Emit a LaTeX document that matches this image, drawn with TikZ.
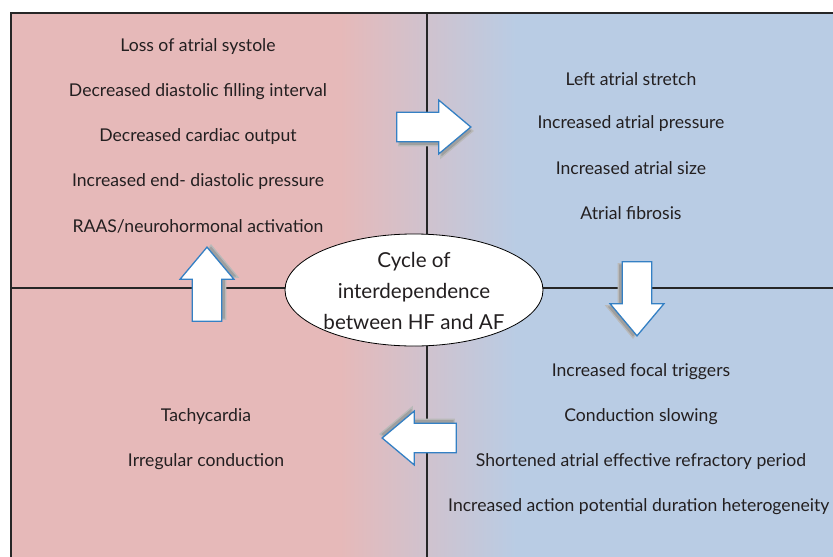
\documentclass[tikz,border=0pt]{standalone}
\usepackage{fontspec}
\setmainfont{Lato}
\usetikzlibrary{shapes.geometric,shapes.arrows,shadows}

\definecolor{hfpink}{RGB}{230,185,185}
\definecolor{afblue}{RGB}{185,204,228}
\definecolor{arrowblue}{RGB}{52,128,196}
\definecolor{txtgray}{RGB}{35,31,32}

\tikzset{
	listtext/.style={text=txtgray,font=\fontsize{17.6}{21}\selectfont,inner sep=0pt},
	cyclearrow/.style={single arrow,draw=arrowblue,line width=1.3pt,fill=white,
		minimum height=74pt,minimum width=54pt,single arrow head extend=12pt,single arrow tip angle=80,
		text width=28pt,text height=14pt,text depth=14pt,inner sep=0pt,single arrow head indent=0pt}
}

\begin{document}
\begin{tikzpicture}[x=1pt,y=-1pt]
		\useasboundingbox (0,0) rectangle (833,557);
		% background of the quadrants
		\fill[hfpink] (11,13) rectangle (341,560);
		\shade[left color=hfpink,right color=afblue] (340,13) rectangle (516,560);
		\fill[afblue] (515,13) rectangle (840,560);
		\draw[line width=1.5pt,black!85] (840,13) -- (11,13) -- (11,560);
		\draw[line width=1.2pt,black!85] (427,13) -- (427,560);
		\draw[line width=1.2pt,black!85] (11,288) -- (840,288);
		% top left
		\node[listtext] (loss) at (198,47) {Loss of atrial systole};
		\node[listtext] (filling) at (198,92) {Decreased diastolic filling interval};
		\node[listtext] (output) at (198,137) {Decreased cardiac output};
		\node[listtext] (pressure) at (198,182) {Increased end- diastolic pressure};
		\node[listtext] (raas) at (198,226) {RAAS/neurohormonal activation};
		% top right
		\node[listtext] (stretch) at (631,79) {Left atrial stretch};
		\node[listtext] (atpress) at (631,124) {Increased atrial pressure};
		\node[listtext] (atsize) at (631,168) {Increased atrial size};
		\node[listtext] (fibrosis) at (631,213) {Atrial fibrosis};
		% bottom right
		\node[listtext] (triggers) at (641,372) {Increased focal triggers};
		\node[listtext] (slowing) at (641,417) {Conduction slowing};
		\node[listtext] (erp) at (641,462) {Shortened atrial effective refractory period};
		\node[listtext,anchor=west] (apd) at (448,507) {Increased action potential duration heterogeneity};
		% bottom left
		\node[listtext] (tachy) at (206,417) {Tachycardia};
		\node[listtext] (irreg) at (206,462) {Irregular conduction};
		% centre
		\node[ellipse,draw=black,line width=0.8pt,fill=white,minimum width=258pt,minimum height=112pt,inner sep=0pt] (cycle) at (414,290) {};
		\node[align=center,text=txtgray,font=\fontsize{20.6}{31}\selectfont,inner sep=0pt] (cycletext) at ([yshift=-1pt]cycle.center)
			{Cycle of\\interdependence\\between HF and AF};
		% arrows of the cycle
		\node[cyclearrow,copy shadow={shadow xshift=2pt,shadow yshift=-4pt,fill=gray!75,draw=gray!55}] (toright) at (425,127) {};
		\node[cyclearrow,shape border rotate=270,copy shadow={shadow xshift=-4pt,shadow yshift=-2pt,fill=gray!75,draw=gray!55}] (todown) at (637,290) {};
		\node[cyclearrow,shape border rotate=180,copy shadow={shadow xshift=-2pt,shadow yshift=4pt,fill=gray!75,draw=gray!55}] (toleft) at (428,438) {};
		\node[cyclearrow,shape border rotate=90,copy shadow={shadow xshift=4pt,shadow yshift=2pt,fill=gray!75,draw=gray!55}] (toup) at (207,293) {};
	\end{tikzpicture}
\end{document}
